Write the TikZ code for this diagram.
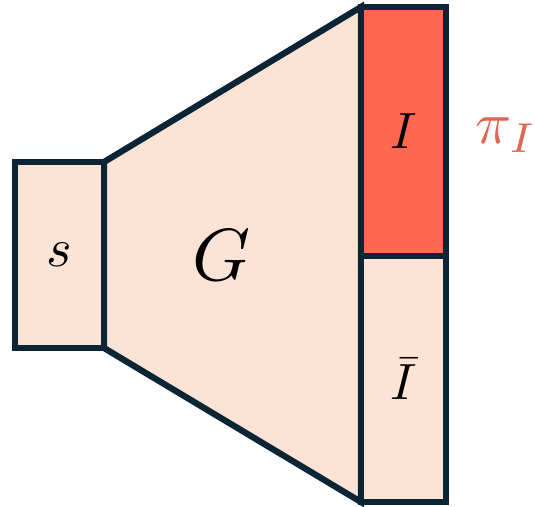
\documentclass[tikz,border=0pt]{standalone}
\usepackage{xcolor}
\usetikzlibrary{math}
\definecolor{mynavy}{RGB}{11,37,52}
\definecolor{mypeach}{RGB}{251,228,214}
\definecolor{myred}{RGB}{255,103,78}
\definecolor{mysalmon}{RGB}{224,101,82}

\begin{document}
\begin{tikzpicture}[x=0.02cm,y=0.02cm,line width=0.125cm,line join=miter,
  block/.style={draw=mynavy, fill=mypeach},
  lbl/.style={scale=3.1}]
\tikzmath{
\xs=15;
\xg=104;
\xr=361;
\xe=446;
\yb=5;
\yt=500;
\ys=159;
\yS=345;
\ym=251;
}
\useasboundingbox (0,0) rectangle (535,507);
%generator
\filldraw[block] (\xg,\ys) -- (\xr,\yb) -- (\xr,\yt) -- (\xg,\yS) -- cycle;
%input
\filldraw[block] (\xs,\ys) rectangle (\xg,\yS);
%output
\filldraw[block, fill=myred] (\xr,\ym) rectangle (\xe,\yt);
\filldraw[block] (\xr,\yb) rectangle (\xe,\ym);

\node[lbl] (s) at (0.5*\xs+0.5*\xg,\ys/2+\yS/2) {$s$};
\node[lbl, scale=4.2/3.1] (G) at (222,252) {$G$};
\node[lbl, scale=2.9/3.1] (I) at (0.5*\xr+0.5*\xe,0.5*\ym+0.5*\yt) {$I$};
\node[lbl, scale=2.9/3.1] (Ibar) at (0.5*\xr+0.5*\xe,0.5*\yb+0.5*\ym) {$\bar{I}$};
\node[lbl, text=mysalmon, scale=3.4/3.1] (pi) at (506,372) {$\pi_I$};
\end{tikzpicture}
\end{document}
